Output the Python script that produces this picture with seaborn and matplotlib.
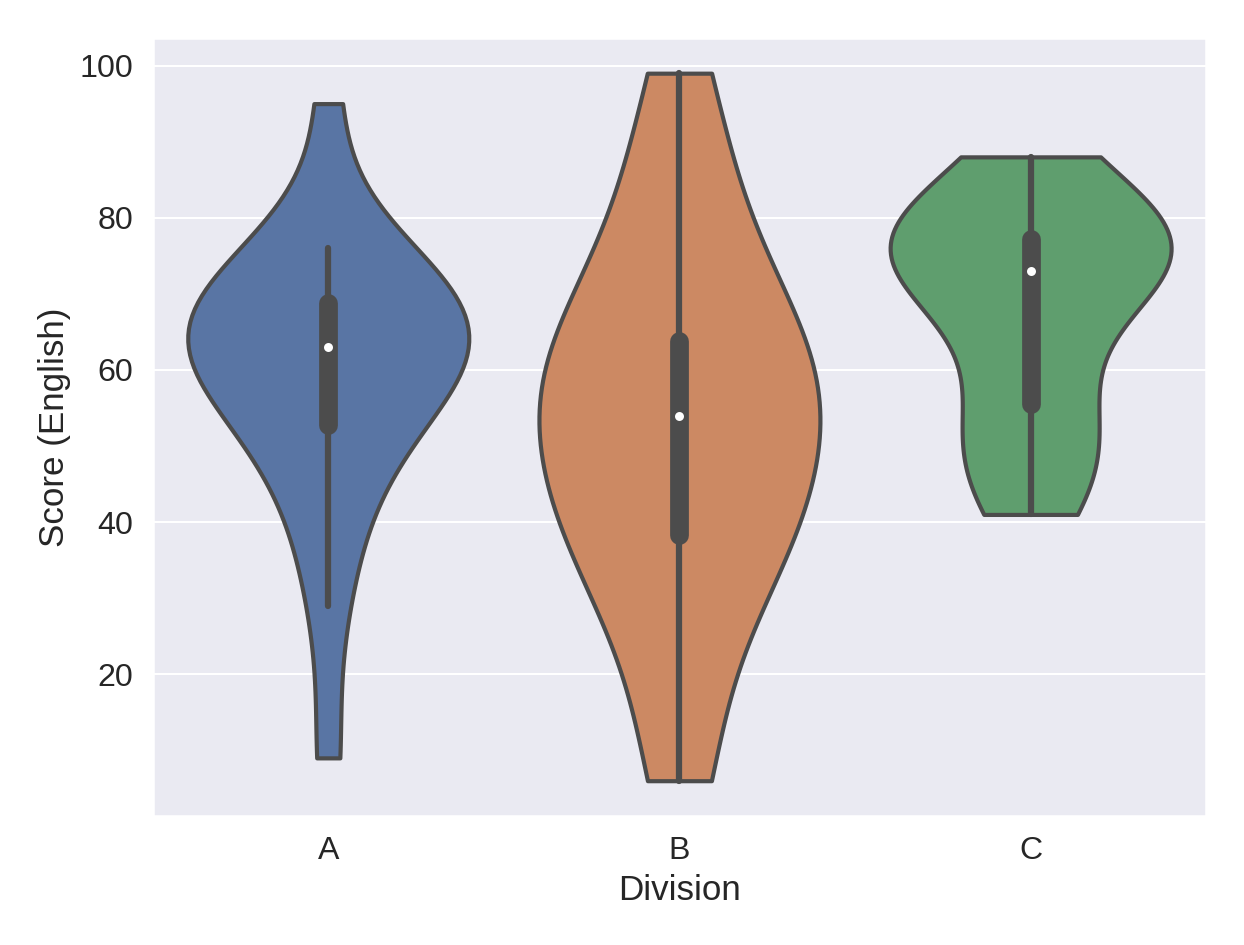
import pandas as pd
import matplotlib.pyplot as plt
import seaborn as sns

sns.set_theme(style="darkgrid", context="notebook", font_scale=1.4,
              rc={"font.family": "sans-serif",
                  "font.sans-serif": ["Liberation Sans", "Arial", "DejaVu Sans"]})

# --- Data ---
div_a = [9, 29, 38, 45, 50, 52, 55, 58, 60, 62, 63, 63, 64, 65, 66, 68, 69, 70, 72, 74, 76, 95]
div_b = [6, 12, 25, 32, 36, 38, 39, 42, 46, 50, 53, 55, 57, 60, 62, 63, 64, 70, 76, 82, 90, 99]
div_c = [41, 44, 47, 50, 54, 56, 62, 68, 71, 72, 74, 75, 76, 76, 77, 78, 80, 82, 85, 88]

df = pd.DataFrame({
    "Division": ["A"] * len(div_a) + ["B"] * len(div_b) + ["C"] * len(div_c),
    "Score (English)": div_a + div_b + div_c,
})

fig, ax = plt.subplots(figsize=(1244 / 150, 945 / 150), dpi=150)
sns.violinplot(data=df, x="Division", y="Score (English)", hue="Division",
               order=["A", "B", "C"], cut=0, linewidth=2, saturation=0.75,
               inner_kws={"marker": "o", "markersize": 2.5},
               legend=False, ax=ax)

plt.tight_layout()
plt.savefig("out.png", dpi=150)
